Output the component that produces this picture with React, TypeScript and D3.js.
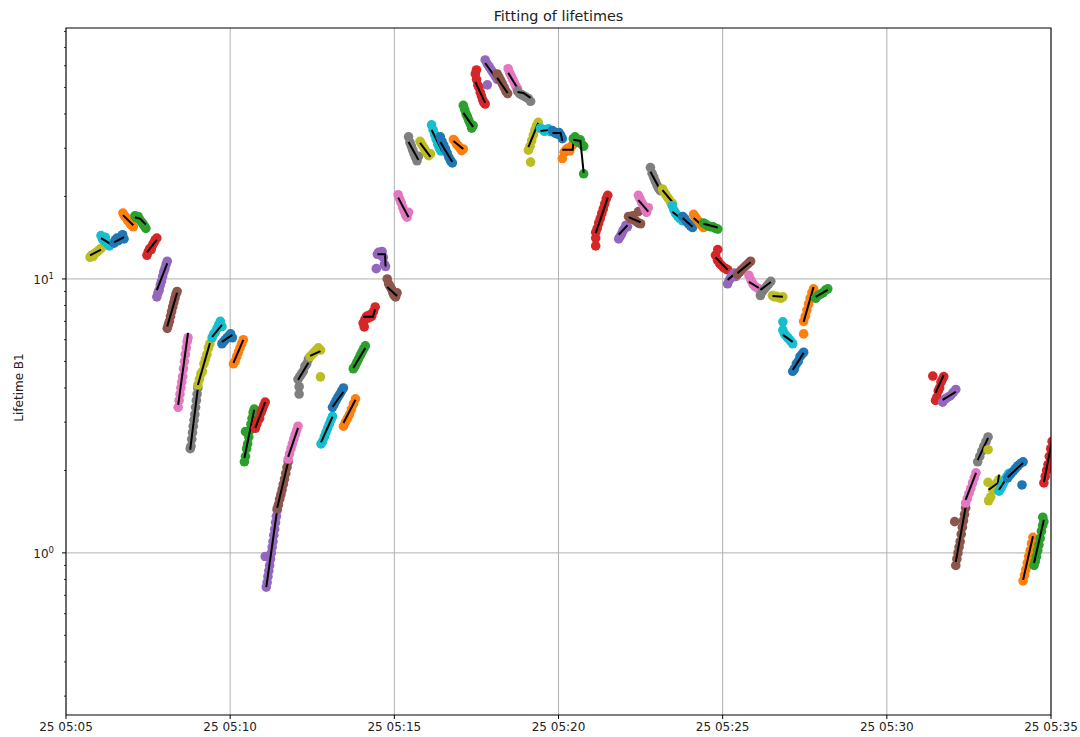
import React from 'react';
import * as d3 from 'd3';

// Time axis: seconds after 05:05:00 on the 25th.
const START = Date.UTC(2017, 9, 25, 5, 5, 0);
const END = Date.UTC(2017, 9, 25, 5, 35, 0);

const TITLE = 'Fitting of lifetimes';
const Y_LABEL = 'Lifetime B1';
const Y_DOMAIN: [number, number] = [0.256, 82.4];
const Y_MAJOR = [1, 10];

// Fitted curve of each window: [seconds, lifetime] knots.
const FIT_KNOTS: [number, number][][] = [
  [[44, 12.2], [64, 12.8]],
  [[64, 14.1], [82, 13.4]],
  [[88, 13.6], [106, 14.2]],
  [[104, 17.1], [123, 15.7]],
  [[126, 16.8], [135, 16.6], [146, 15.8]],
  [[148, 12.5], [166, 13.9]],
  [[166, 9.1], [185, 11.4]],
  [[185, 6.7], [203, 8.9]],
  [[205, 3.47], [223, 6.35]],
  [[227, 2.38], [241, 4.0]],
  [[241, 4.1], [263, 5.84]],
  [[267, 6.14], [285, 6.79]],
  [[285, 5.89], [304, 6.25]],
  [[306, 4.94], [324, 5.99]],
  [[326, 2.22], [344, 3.33]],
  [[346, 2.86], [364, 3.55]],
  [[366, 0.75], [386, 1.44]],
  [[386, 1.46], [406, 2.15]],
  [[406, 2.24], [424, 2.86]],
  [[424, 4.28], [443, 4.94]],
  [[446, 5.24], [465, 5.45]],
  [[466, 2.53], [487, 3.14]],
  [[487, 3.41], [507, 3.87]],
  [[507, 2.98], [529, 3.62]],
  [[525, 4.73], [547, 5.6]],
  [[543, 7.27], [561, 7.27], [565, 7.77]],
  [[569, 12.3], [583, 12.3], [584, 11.1]],
  [[587, 9.35], [605, 8.67]],
  [[607, 19.8], [626, 16.8]],
  [[626, 31.6], [644, 27.2]],
  [[647, 31.4], [666, 27.9]],
  [[668, 35.0], [688, 29.1]],
  [[684, 31.6], [706, 26.7]],
  [[708, 31.9], [726, 29.8]],
  [[726, 40.4], [744, 35.9]],
  [[748, 52.4], [766, 43.9]],
  [[766, 61.4], [788, 53.3]],
  [[788, 54.2], [807, 47.7]],
  [[808, 56.5], [825, 49.8]],
  [[825, 48.1], [836, 47.7], [849, 45.8]],
  [[845, 30.3], [863, 37.1]],
  [[867, 34.7], [885, 35.0]],
  [[889, 34.1], [904, 34.1], [907, 31.9]],
  [[907, 29.6], [926, 29.6], [927, 31.4]],
  [[927, 32.2], [940, 31.9], [946, 24.4]],
  [[968, 14.7], [990, 19.8]],
  [[1010, 14.5], [1026, 15.7]],
  [[1028, 16.8], [1050, 16.1]],
  [[1046, 19.4], [1064, 17.6]],
  [[1068, 24.6], [1086, 21.1]],
  [[1090, 21.1], [1108, 19.1]],
  [[1108, 17.6], [1127, 16.4]],
  [[1127, 16.7], [1145, 15.5]],
  [[1147, 16.7], [1165, 15.5]],
  [[1165, 15.9], [1191, 15.4]],
  [[1187, 12.0], [1209, 10.8]],
  [[1209, 9.92], [1224, 10.5]],
  [[1227, 10.5], [1251, 11.5]],
  [[1248, 9.75], [1266, 9.27]],
  [[1269, 9.12], [1288, 9.75]],
  [[1291, 8.67], [1310, 8.6]],
  [[1310, 6.25], [1328, 5.89]],
  [[1328, 4.65], [1348, 5.37]],
  [[1348, 6.97], [1366, 9.35]],
  [[1370, 8.6], [1392, 9.12]],
  [[1589, 3.84], [1604, 4.46]],
  [[1602, 3.62], [1626, 3.87]],
  [[1626, 0.927], [1644, 1.47]],
  [[1644, 1.56], [1663, 1.96]],
  [[1666, 2.18], [1685, 2.63]],
  [[1686, 1.7], [1703, 1.8], [1705, 1.93]],
  [[1705, 1.7], [1723, 1.93]],
  [[1721, 1.89], [1749, 2.13]],
  [[1749, 0.797], [1767, 1.15]],
  [[1769, 0.919], [1787, 1.32]],
  [[1787, 1.81], [1802, 2.58]],
];

// Measured lifetimes of each window, sampled evenly across the window.
const DOT_VALUES: number[][] = [
  [12.0, 12.2, 12.1, 12.4, 12.5, 12.6, 12.8, 12.9],
  [14.4, 14.0, 13.8, 14.2, 13.6, 13.4, 13.2, 13.5],
  [13.5, 13.9, 14.1, 13.8, 14.0, 14.3, 14.5, 14.0],
  [17.4, 17.0, 16.8, 16.4, 16.2, 15.9, 15.7, 15.5],
  [17.0, 16.7, 16.9, 16.5, 16.2, 15.9, 15.6, 15.3],
  [12.2, 12.6, 12.9, 12.8, 13.3, 13.6, 13.9, 14.1],
  [8.6, 8.9, 9.1, 9.5, 9.8, 10.2, 10.6, 10.9, 11.3, 11.6],
  [6.6, 6.8, 7.0, 7.3, 7.6, 7.9, 8.2, 8.5, 8.8, 9.0],
  [3.4, 3.6, 3.8, 4.0, 4.2, 4.4, 4.7, 5.0, 5.3, 5.6, 5.9, 6.1],
  [2.4, 2.45, 2.6, 2.75, 2.9, 3.05, 3.2, 3.4, 3.6, 3.8, 4.0],
  [4.1, 4.3, 4.5, 4.6, 4.9, 5.1, 5.3, 5.6, 5.8],
  [6.1, 6.3, 6.4, 6.6, 6.8, 7.0, 6.7],
  [5.8, 5.9, 6.0, 6.1, 6.2, 6.3, 6.1],
  [4.9, 5.0, 5.2, 5.4, 5.6, 5.8, 6.0],
  [2.15, 2.25, 2.4, 2.5, 2.65, 2.8, 2.95, 3.1, 3.25, 3.35],
  [2.85, 2.95, 3.05, 3.1, 3.25, 3.35, 3.45, 3.55],
  [0.75, 0.78, 0.82, 0.86, 0.9, 0.95, 1.0, 1.05, 1.1, 1.16, 1.22, 1.29, 1.36, 1.43],
  [1.45, 1.5, 1.57, 1.63, 1.7, 1.78, 1.86, 1.95, 2.05, 2.15],
  [2.2, 2.3, 2.4, 2.5, 2.6, 2.7, 2.8, 2.9],
  [4.3, 4.4, 4.5, 4.6, 4.8, 4.9, 5.1],
  [5.2, 5.3, 5.4, 5.5, 5.6, 5.5],
  [2.5, 2.55, 2.65, 2.75, 2.85, 2.95, 3.05, 3.15],
  [3.4, 3.5, 3.6, 3.7, 3.8, 3.9, 4.0],
  [2.9, 3.0, 3.1, 3.2, 3.35, 3.5, 3.65],
  [4.7, 4.8, 4.95, 5.1, 5.25, 5.4, 5.55, 5.7],
  [6.9, 7.1, 7.3, 7.2, 7.4, 7.3, 7.6, 7.9],
  [12.3, 12.5, 12.4, 12.2, 12.6, 12.0, 11.3, 11.1],
  [10.0, 9.6, 9.4, 9.2, 8.9, 8.7, 8.6, 8.9],
  [20.3, 19.6, 19.0, 18.3, 17.7, 17.1, 16.8, 17.5],
  [33.0, 31.5, 30.5, 29.5, 28.6, 27.8, 27.0, 28.0],
  [31.8, 31.0, 30.3, 29.5, 28.8, 28.2, 28.6],
  [36.5, 35.0, 33.6, 32.3, 31.0, 30.0, 29.3, 30.5],
  [33.0, 31.8, 30.8, 29.8, 28.8, 27.8, 27.0, 26.5],
  [32.3, 31.8, 31.0, 30.6, 30.0, 29.4, 29.8],
  [43.0, 41.5, 40.0, 39.0, 37.8, 36.8, 35.5, 36.3],
  [56.0, 53.5, 51.0, 50.0, 48.0, 46.5, 45.0, 44.0, 43.5],
  [63.0, 61.0, 59.5, 58.0, 56.5, 55.0, 53.5],
  [56.0, 54.5, 53.0, 51.5, 50.0, 48.5, 47.5],
  [58.5, 56.5, 55.0, 53.5, 52.0, 50.5, 49.5],
  [48.5, 47.5, 47.0, 46.5, 46.0, 45.5, 44.5],
  [29.5, 30.5, 32.0, 33.5, 35.0, 36.3, 37.3],
  [35.5, 35.2, 34.6, 34.8, 35.3, 34.5],
  [34.8, 34.3, 34.0, 33.8, 34.2, 33.5, 32.5],
  [27.5, 29.0, 29.6, 30.0, 29.3, 30.5, 31.0],
  [32.5, 33.0, 32.0, 31.5, 32.2, 31.0, 30.5],
  [14.8, 15.3, 16.0, 16.6, 17.3, 18.0, 18.8, 19.6, 20.2],
  [14.0, 14.3, 14.6, 15.0, 15.3, 15.7, 15.5],
  [16.9, 16.6, 17.0, 16.4, 16.2, 16.0, 15.9],
  [20.2, 19.6, 19.0, 18.6, 18.0, 17.5, 18.2],
  [25.5, 24.3, 23.5, 22.7, 22.0, 21.4, 21.0],
  [21.3, 20.8, 20.3, 19.9, 19.5, 19.0, 18.9],
  [18.5, 17.8, 17.3, 17.0, 16.7, 16.5, 16.3],
  [16.9, 16.6, 16.2, 15.9, 15.6, 15.4],
  [17.2, 16.8, 16.4, 16.0, 15.7, 15.4],
  [16.0, 15.8, 15.6, 15.5, 15.5, 15.3, 15.2],
  [12.2, 11.7, 11.4, 11.2, 11.0, 10.9, 10.8],
  [9.6, 9.9, 10.1, 10.3, 10.5, 10.2],
  [10.4, 10.6, 10.8, 11.0, 11.2, 11.4, 11.6],
  [10.3, 9.9, 9.6, 9.4, 9.3, 9.2],
  [8.7, 9.0, 9.2, 9.4, 9.6, 9.8],
  [8.7, 8.6, 8.65, 8.55, 8.5, 8.6],
  [6.5, 6.3, 6.2, 6.1, 6.0, 5.9, 5.8],
  [4.6, 4.7, 4.9, 5.0, 5.2, 5.3, 5.4],
  [7.0, 7.3, 7.7, 8.1, 8.5, 8.9, 9.2],
  [8.5, 8.7, 8.8, 8.9, 9.1, 9.2],
  [3.6, 3.7, 3.9, 4.0, 4.2, 4.3, 4.4],
  [3.55, 3.65, 3.7, 3.75, 3.85, 3.95],
  [0.9, 0.95, 1.0, 1.05, 1.1, 1.17, 1.24, 1.31, 1.38, 1.46],
  [1.52, 1.58, 1.65, 1.72, 1.8, 1.88, 1.96],
  [2.15, 2.25, 2.35, 2.45, 2.55, 2.65],
  [1.55, 1.6, 1.7, 1.75, 1.8, 1.85],
  [1.68, 1.72, 1.78, 1.84, 1.9, 1.95],
  [1.88, 1.93, 1.98, 2.03, 2.08, 2.12, 2.15],
  [0.79, 0.83, 0.87, 0.92, 0.97, 1.02, 1.08, 1.14],
  [0.9, 0.93, 0.97, 1.02, 1.07, 1.13, 1.2, 1.26, 1.3],
  [1.8, 1.9, 2.0, 2.1, 2.25, 2.4, 2.55],
];

// Stray samples: [window index, seconds, lifetime].
const EXTRA_DOTS: [number, number, number][] = [
  [14, 328, 2.77], [16, 364, 0.97], [19, 426, 4.04], [19, 426, 3.8],
  [20, 465, 4.39], [25, 545, 6.68], [26, 567, 10.9], [35, 750, 57.9],
  [36, 770, 51.1], [40, 849, 26.7], [44, 946, 24.2], [45, 968, 14.1],
  [45, 968, 13.2], [47, 1046, 17.6], [55, 1191, 12.8], [61, 1310, 6.97],
  [63, 1348, 6.3], [65, 1584, 4.42], [67, 1624, 1.3], [70, 1685, 2.38],
  [70, 1685, 1.81], [72, 1747, 1.77], [74, 1785, 1.35],
];

const CYCLE = d3.schemeCategory10;
const FONT = '"DejaVu Sans", sans-serif';
const DOT_R = 4.8;

export default function App() {
  const W = 1080;
  const H = 737;
  const left = 66, right = 1051, top = 28, bottom = 715;

  const x = d3.scaleUtc().domain([new Date(START), new Date(END)]).range([left, right]);
  const y = d3.scaleLog().domain(Y_DOMAIN).range([bottom, top]);
  const xs = (s: number) => x(new Date(START + s * 1000));

  const xTicks = x.ticks(d3.utcMinute.every(5) as any);
  const fmt = d3.utcFormat('%d %H:%M');
  const minorY = y.ticks().filter((v) => Math.abs(Math.log10(v) - Math.round(Math.log10(v))) > 1e-6);

  const line = d3.line<[number, number]>().x((d) => xs(d[0])).y((d) => y(d[1]));

  return (
    <svg width={W} height={H} style={{ position: 'absolute', left: 0, top: 0, background: '#fff' }} fontFamily={FONT}>
      <defs>
        <clipPath id="plot">
          <rect x={left} y={top} width={right - left} height={bottom - top} />
        </clipPath>
      </defs>
      <rect x={0} y={0} width={W} height={H} fill="#fff" />

      {/* grid */}
      {xTicks.map((t, i) => (
        <line key={'gx' + i} x1={x(t)} x2={x(t)} y1={top} y2={bottom} stroke="#b0b0b0" strokeWidth={1} />
      ))}
      {Y_MAJOR.map((v) => (
        <line key={'gy' + v} x1={left} x2={right} y1={y(v)} y2={y(v)} stroke="#b0b0b0" strokeWidth={1} />
      ))}

      {/* windows: samples then fitted curve */}
      <g clipPath="url(#plot)">
        {FIT_KNOTS.map((knots, i) => {
          const color = CYCLE[(i + 8) % 10];
          const t0 = knots[0][0];
          const t1 = knots[knots.length - 1][0];
          const vals = DOT_VALUES[i];
          const n = vals.length;
          return (
            <g key={'s' + i}>
              {vals.map((v, j) => (
                <circle key={j} cx={xs(t0 + ((t1 - t0) * j) / (n - 1))} cy={y(v)} r={DOT_R} fill={color} />
              ))}
              {EXTRA_DOTS.filter((e) => e[0] === i).map((e, j) => (
                <circle key={'e' + j} cx={xs(e[1])} cy={y(e[2])} r={DOT_R} fill={color} />
              ))}
              <path d={line(knots) || ''} fill="none" stroke="#000" strokeWidth={2} />
            </g>
          );
        })}
      </g>

      {/* spines */}
      <rect x={left} y={top} width={right - left} height={bottom - top} fill="none" stroke="#000" strokeWidth={1} />

      {/* x axis */}
      {xTicks.map((t, i) => (
        <g key={'xt' + i}>
          <line x1={x(t)} x2={x(t)} y1={bottom} y2={bottom + 4} stroke="#000" strokeWidth={1} />
          <text x={x(t)} y={731} textAnchor="middle" fontSize={12} fill="#222">
            {fmt(t)}
          </text>
        </g>
      ))}

      {/* y axis */}
      {Y_MAJOR.map((v) => (
        <g key={'yt' + v}>
          <line x1={left - 4} x2={left} y1={y(v)} y2={y(v)} stroke="#000" strokeWidth={1} />
          <text x={54} y={y(v) + 5} textAnchor="end" fontSize={12} fill="#222">
            <tspan>10</tspan>
            <tspan dy={-5} fontSize={8.5}>{String(Math.round(Math.log10(v)))}</tspan>
          </text>
        </g>
      ))}
      {minorY.map((v, i) => (
        <line key={'ym' + i} x1={left - 2} x2={left} y1={y(v)} y2={y(v)} stroke="#000" strokeWidth={0.8} />
      ))}

      <text x={19} y={(top + bottom) / 2 + 16} transform={`rotate(-90 19 ${(top + bottom) / 2 + 16})`} textAnchor="middle" dominantBaseline="central" fontSize={12} fill="#222">
        {Y_LABEL}
      </text>

      <text x={(left + right) / 2} y={21} textAnchor="middle" fontSize={14.4} fill="#222">
        {TITLE}
      </text>
    </svg>
  );
}
